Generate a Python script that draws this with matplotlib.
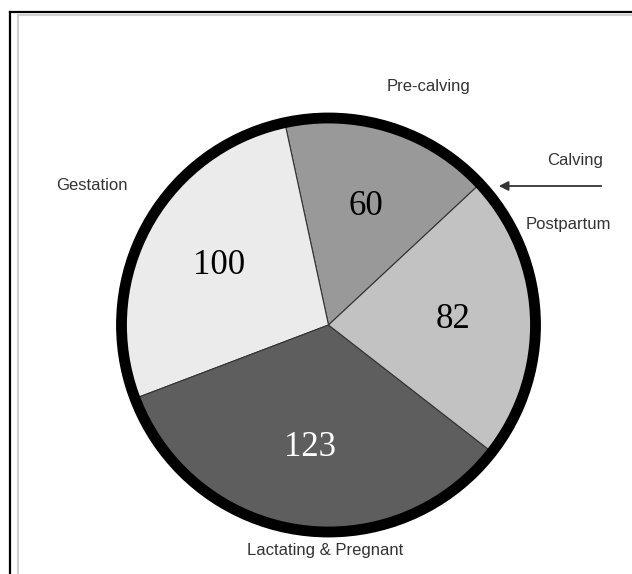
import numpy as np
import matplotlib.pyplot as plt
from matplotlib.patches import Circle

# Days spent in each phase of the cow's yearly cycle
phases = ['Pre-calving', 'Gestation', 'Lactating & Pregnant', 'Postpartum']
days = [60, 100, 123, 82]
colors = ['#999999', '#ebebeb', '#5e5e5e', '#c2c2c2']
number_colors = ['black', 'black', 'white', 'black']

W, H = 632, 574
fig = plt.figure(figsize=(W / 100, H / 100), dpi=100)
ax = fig.add_axes([0, 0, 1, 1])

cx, cy, r = 328.5, 249, 207

wedges, texts, autotexts = ax.pie(
    days, colors=colors, startangle=43, counterclock=True,
    center=(cx, cy), radius=r,
    autopct=lambda p: '{:.0f}'.format(p * sum(days) / 100),
    pctdistance=0.6,
    wedgeprops={'edgecolor': '#333333', 'linewidth': 0.8},
    textprops={'fontsize': 25, 'family': 'Liberation Serif'})
for t, c in zip(autotexts, number_colors):
    t.set_color(c)

# Thick black rim around the pie
ax.add_patch(Circle((cx, cy), r, fill=False, edgecolor='black', linewidth=7.8, zorder=5))

# Phase names around the outside
label_font = {'fontsize': 12, 'family': 'Liberation Sans', 'color': '#333333'}
ax.text(428, H - 86, 'Pre-calving', ha='center', va='center', **label_font)
ax.text(92, H - 185, 'Gestation', ha='center', va='center', **label_font)
ax.text(568, H - 225, 'Postpartum', ha='center', va='center', **label_font)
ax.text(325, H - 551, 'Lactating & Pregnant', ha='center', va='center', **label_font)

# Calving marker
ax.text(575, H - 160, 'Calving', ha='center', va='center', **label_font)
ax.annotate('', xy=(496, H - 186), xytext=(604, H - 186),
            arrowprops=dict(arrowstyle='-|>', color='#333333', lw=1.3,
                            mutation_scale=14))

# Frame lines
ax.plot([10, 10], [0, H - 12], color='black', lw=1.6)
ax.plot([10, W], [H - 12, H - 12], color='black', lw=1.6)
ax.plot([18, 18], [0, H - 15], color='#d0d0d0', lw=1.5)
ax.plot([18, W], [H - 15, H - 15], color='#d0d0d0', lw=1.5)

ax.set_xlim(0, W)
ax.set_ylim(0, H)
ax.set_aspect('equal')
ax.axis('off')

plt.savefig('out.png', dpi=100)
